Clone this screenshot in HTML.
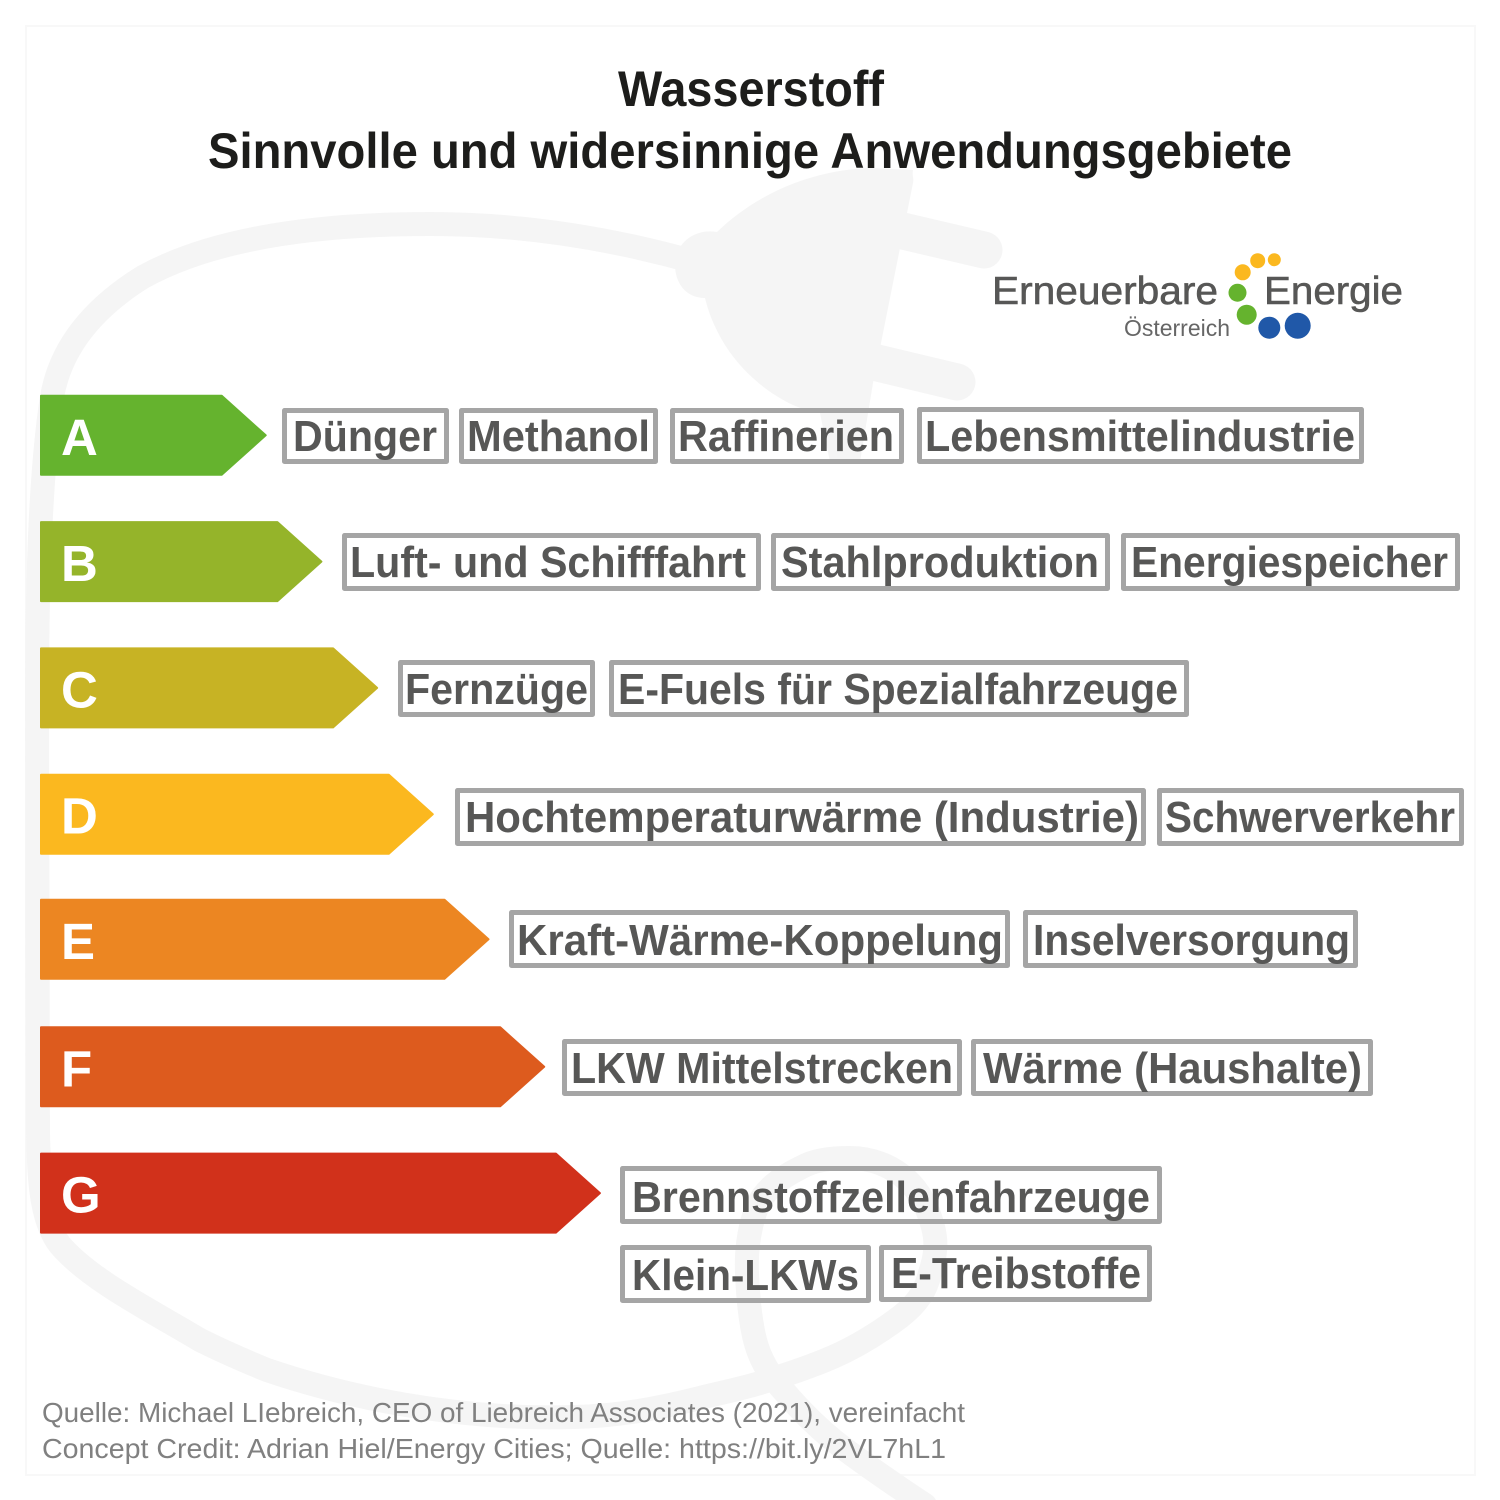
<!DOCTYPE html>
<html lang="de">
<head>
<meta charset="utf-8">
<title>Wasserstoff – Sinnvolle und widersinnige Anwendungsgebiete</title>
<style>
html,body{margin:0;padding:0;background:#fff;width:1500px;height:1500px;overflow:hidden}
svg{display:block;font-family:"Liberation Sans",sans-serif}
.tag rect{fill:none;stroke:#a5a5a5;stroke-width:5;stroke-linejoin:round}
.tag text{font-weight:700;font-size:44px;fill:#575756}
</style>
</head>
<body>
<svg id="chart" width="1500" height="1500" viewBox="0 0 1500 1500" xmlns="http://www.w3.org/2000/svg">
  <rect x="0" y="0" width="1500" height="1500" fill="#fff"/>
  <rect x="26" y="26" width="1449" height="1449" fill="none" stroke="#f8f8f8" stroke-width="2"/>

  <g fill="#f5f5f5" stroke="none">
    <path fill="none" stroke="#f5f5f5" stroke-width="24" stroke-linecap="round" d="M695 262 C610 238 520 224 430 224 C310 224 210 240 143 277 C90 310 60 350 52 397 C42 460 37 560 37 700 L38 1133 C39 1185 42 1222 60 1245 C90 1280 150 1310 200 1340 C222 1351 245 1361 267 1370 C370 1405 480 1420 574 1417 C620 1416 660 1408 700 1398 C720 1393 740 1389 760 1383 C785 1375 810 1367 833 1357 C858 1346 880 1332 900 1317 C918 1303 926 1290 930 1273 C936 1255 937 1242 933 1227 C928 1208 920 1192 907 1180 C892 1166 872 1158 850 1158 C830 1158 814 1160 800 1168 C780 1178 764 1190 757 1207 C749 1228 746 1250 747 1273 C748 1298 750 1320 755 1340 C760 1360 770 1376 783 1390 C798 1408 815 1425 833 1440 C858 1460 885 1478 907 1493 L925 1505"/>
    <path d="M913 170 C912 178 914 176 913 183 L873 383 L860 462 L830 462 L820 413 C810 411 802 409 793 405 C765 392 738 368 722 340 C712 322 708 310 705 298 C685 298 675 282 675 265 C675 243 695 228 717 232 C755 195 810 170 870 168 Z"/>
    <path fill="none" stroke="#f5f5f5" stroke-width="37" stroke-linecap="round" d="M890 228 L984 250"/>
    <path fill="none" stroke="#f5f5f5" stroke-width="37" stroke-linecap="round" d="M865 360 L957 382"/>
  </g>

  <g text-anchor="start" font-weight="700" font-size="50" fill="#1d1d1b">
    <text x="618" y="106" textLength="266" lengthAdjust="spacingAndGlyphs">Wasserstoff</text>
    <text x="208" y="168" textLength="1084" lengthAdjust="spacingAndGlyphs">Sinnvolle und widersinnige Anwendungsgebiete</text>
  </g>

  <g fill="#575756">
    <text x="992" y="304" font-size="39" stroke="#575756" stroke-width="0.6" textLength="226" lengthAdjust="spacingAndGlyphs">Erneuerbare</text>
    <text x="1264" y="304" font-size="39" stroke="#575756" stroke-width="0.6" textLength="139" lengthAdjust="spacingAndGlyphs">Energie</text>
    <text x="1124" y="336" font-size="23" fill="#666" textLength="106" lengthAdjust="spacingAndGlyphs">Österreich</text>
    <circle cx="1242.7" cy="272.3" r="8" fill="#fbb81f"/>
    <circle cx="1257.7" cy="260.7" r="7.5" fill="#fbb81f"/>
    <circle cx="1274.3" cy="259.7" r="6.5" fill="#fbb81f"/>
    <circle cx="1237.5" cy="292.7" r="9" fill="#65b32e"/>
    <circle cx="1246.7" cy="314.7" r="10" fill="#65b32e"/>
    <circle cx="1269.3" cy="327.7" r="11" fill="#2058a8"/>
    <circle cx="1297.7" cy="325.7" r="13" fill="#2058a8"/>
  </g>

  <g id="rating-arrows"></g>

  <g>
    <g class="tag"><rect x="284.500" y="410.500" width="162" height="51"/><text x="293" y="451" textLength="144" lengthAdjust="spacingAndGlyphs">Dünger</text></g>
    <g class="tag"><rect x="461.500" y="410.500" width="194" height="51"/><text x="467" y="451" textLength="183" lengthAdjust="spacingAndGlyphs">Methanol</text></g>
    <g class="tag"><rect x="672.500" y="410.500" width="229" height="51"/><text x="678" y="451" textLength="216" lengthAdjust="spacingAndGlyphs">Raffinerien</text></g>
    <g class="tag"><rect x="919.500" y="409.500" width="442" height="52"/><text x="925" y="451" textLength="430" lengthAdjust="spacingAndGlyphs">Lebensmittelindustrie</text></g>
  </g>
  <g>
    <g class="tag"><rect x="344.500" y="535.500" width="414" height="53"/><text x="350" y="577" textLength="396" lengthAdjust="spacingAndGlyphs">Luft- und Schifffahrt</text></g>
    <g class="tag"><rect x="773.500" y="535.500" width="334" height="53"/><text x="781" y="577" textLength="318" lengthAdjust="spacingAndGlyphs">Stahlproduktion</text></g>
    <g class="tag"><rect x="1123.500" y="535.500" width="334" height="53"/><text x="1131" y="577" textLength="317" lengthAdjust="spacingAndGlyphs">Energiespeicher</text></g>
  </g>
  <g>
    <g class="tag"><rect x="400.500" y="662.500" width="192" height="52"/><text x="405" y="704" textLength="183" lengthAdjust="spacingAndGlyphs">Fernzüge</text></g>
    <g class="tag"><rect x="611.500" y="662.500" width="575" height="52"/><text x="618" y="704" textLength="560" lengthAdjust="spacingAndGlyphs">E-Fuels für Spezialfahrzeuge</text></g>
  </g>
  <g>
    <g class="tag"><rect x="457.500" y="790.500" width="686" height="53"/><text x="465" y="832" textLength="674" lengthAdjust="spacingAndGlyphs">Hochtemperaturwärme (Industrie)</text></g>
    <g class="tag"><rect x="1159.500" y="790.500" width="302" height="53"/><text x="1165" y="832" textLength="290" lengthAdjust="spacingAndGlyphs">Schwerverkehr</text></g>
  </g>
  <g>
    <g class="tag"><rect x="511.500" y="912.500" width="496" height="53"/><text x="517" y="955" textLength="486" lengthAdjust="spacingAndGlyphs">Kraft-Wärme-Koppelung</text></g>
    <g class="tag"><rect x="1025.500" y="912.500" width="330" height="53"/><text x="1033" y="955" textLength="317" lengthAdjust="spacingAndGlyphs">Inselversorgung</text></g>
  </g>
  <g>
    <g class="tag"><rect x="564.500" y="1041.500" width="395" height="52"/><text x="571" y="1083" textLength="382" lengthAdjust="spacingAndGlyphs">LKW Mittelstrecken</text></g>
    <g class="tag"><rect x="973.500" y="1041.500" width="397" height="52"/><text x="983" y="1083" textLength="379" lengthAdjust="spacingAndGlyphs">Wärme (Haushalte)</text></g>
  </g>
  <g>
    <g class="tag"><rect x="622.500" y="1168.500" width="537" height="53"/><text x="632" y="1212" textLength="518" lengthAdjust="spacingAndGlyphs">Brennstoffzellenfahrzeuge</text></g>
    <g class="tag"><rect x="622.500" y="1247.500" width="246" height="53"/><text x="632" y="1290" textLength="227" lengthAdjust="spacingAndGlyphs">Klein-LKWs</text></g>
    <g class="tag"><rect x="881.500" y="1247.500" width="268" height="52"/><text x="891" y="1288" textLength="250" lengthAdjust="spacingAndGlyphs">E-Treibstoffe</text></g>
  </g>

  <g font-size="28" fill="#808080">
    <text x="42" y="1422" textLength="923" lengthAdjust="spacingAndGlyphs">Quelle: Michael LIebreich, CEO of Liebreich Associates (2021), vereinfacht</text>
    <text x="42" y="1458" textLength="904" lengthAdjust="spacingAndGlyphs">Concept Credit: Adrian Hiel/Energy Cities; Quelle: https://bit.ly/2VL7hL1</text>
  </g>
</svg>
<script>
const categories = ['A', 'B', 'C', 'D', 'E', 'F', 'G'];
const ladderRanks = [1, 2, 3, 4, 5, 6, 7];
const categoryColors = ['#65b32e', '#95b42a', '#c7b324', '#fbb81f', '#ec8622', '#dd5b1e', '#d1311b'];

const SVG_NS = 'http://www.w3.org/2000/svg';
function xAxis(rank) { return 265.7 + (rank - 1) * 55.7; }
function yAxis(index) { return 395.8 + index * 126.3 - (index === 4 ? 1.2 : 0); }

const arrowLayer = document.getElementById('rating-arrows');
categories.forEach(function (label, i) {
  const tip = xAxis(ladderRanks[i]);
  const top = yAxis(i);
  const h = 79;
  const neck = tip - 44;
  const arrow = document.createElementNS(SVG_NS, 'path');
  arrow.setAttribute('d', 'M41 ' + top + ' L' + neck + ' ' + top + ' L' + tip + ' ' + (top + h / 2) + ' L' + neck + ' ' + (top + h) + ' L41 ' + (top + h) + ' Z');
  arrow.setAttribute('fill', categoryColors[i]);
  arrow.setAttribute('stroke', categoryColors[i]);
  arrow.setAttribute('stroke-width', '2');
  arrow.setAttribute('stroke-linejoin', 'round');
  
  
  arrowLayer.appendChild(arrow);

  const letter = document.createElementNS(SVG_NS, 'text');
  letter.textContent = label;
  letter.setAttribute('x', '61');
  letter.setAttribute('y', String(top + 59));
  letter.setAttribute('font-size', '51');
  letter.setAttribute('font-weight', '700');
  letter.setAttribute('fill', '#fff');
  
  
  arrowLayer.appendChild(letter);
});
</script>
</body>
</html>
